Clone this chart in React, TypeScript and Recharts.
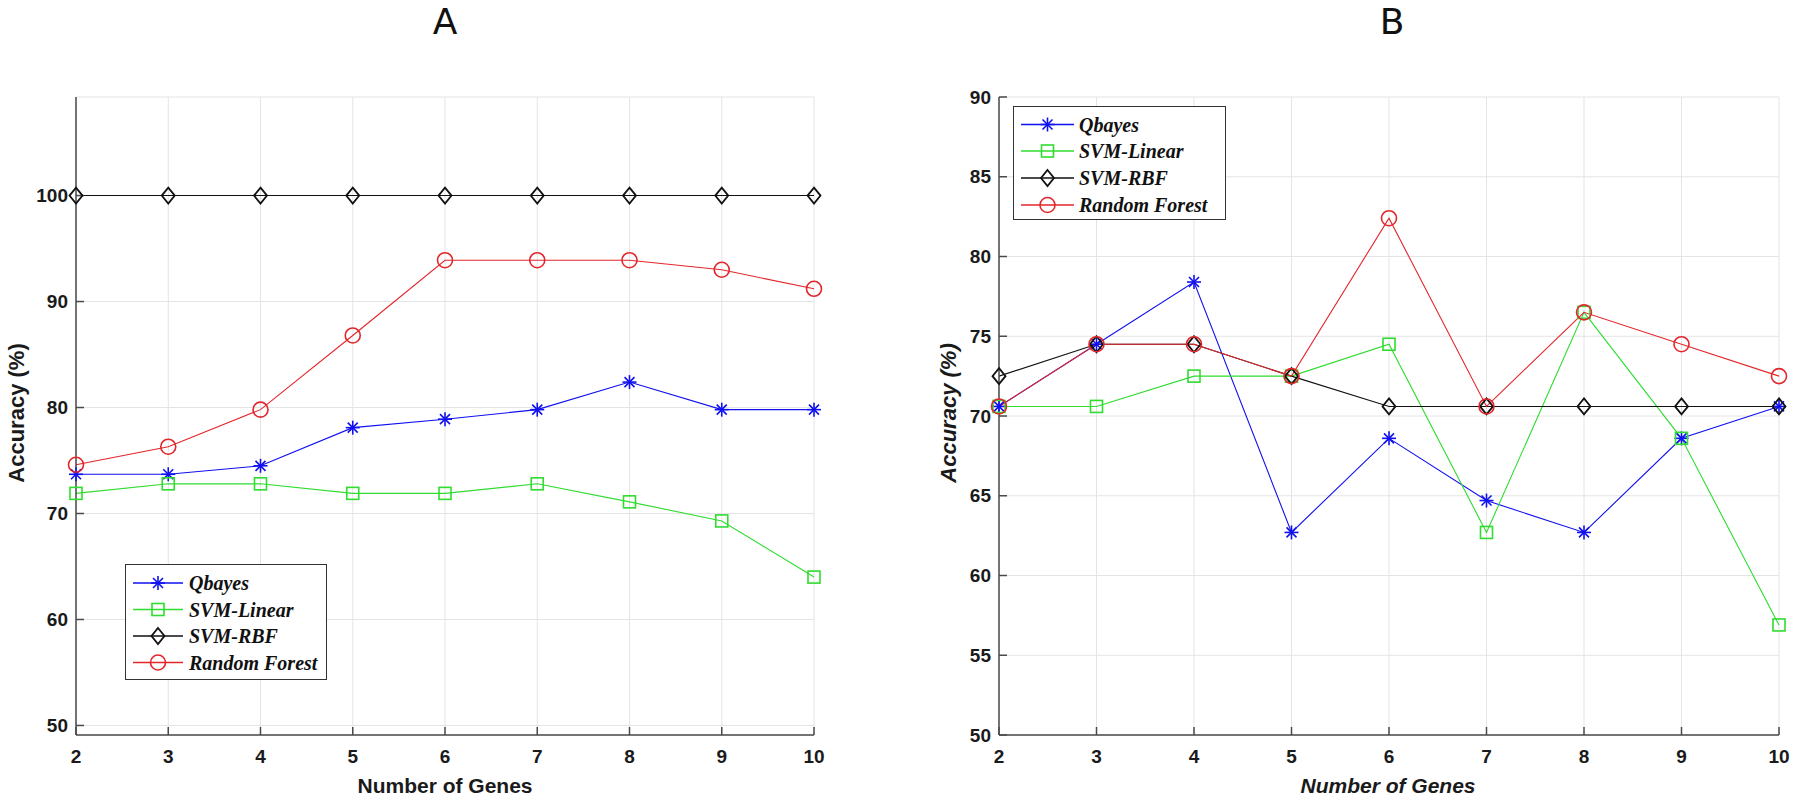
import { LineChart, Line, XAxis, YAxis, CartesianGrid } from 'recharts';

// Number of genes on the x axis
const genes = [2, 3, 4, 5, 6, 7, 8, 9, 10];

// Panel A accuracy (%)
const aQbayes = [73.7, 73.7, 74.5, 78.1, 78.9, 79.8, 82.4, 79.8, 79.8];
const aSvmLinear = [71.9, 72.8, 72.8, 71.9, 71.9, 72.8, 71.1, 69.3, 64.0];
const aSvmRbf = [100, 100, 100, 100, 100, 100, 100, 100, 100];
const aRandomForest = [74.6, 76.3, 79.8, 86.8, 93.9, 93.9, 93.9, 93.0, 91.2];

// Panel B accuracy (%)
const bQbayes = [70.6, 74.5, 78.4, 62.7, 68.6, 64.7, 62.7, 68.6, 70.6];
const bSvmLinear = [70.6, 70.6, 72.5, 72.5, 74.5, 62.7, 76.5, 68.6, 56.9];
const bSvmRbf = [72.5, 74.5, 74.5, 72.5, 70.6, 70.6, 70.6, 70.6, 70.6];
const bRandomForest = [70.6, 74.5, 74.5, 72.5, 82.4, 70.6, 76.5, 74.5, 72.5];

const aTicks = [50, 60, 70, 80, 90, 100];
const bTicks = [50, 55, 60, 65, 70, 75, 80, 85, 90];

const seriesNames = ['Qbayes', 'SVM-Linear', 'SVM-RBF', 'Random Forest'];

const BLUE = '#1010f0';
const GREEN = '#2fdc2f';
const BLACK = '#111111';
const RED = '#e3262b';
const AXIS = '#4a4a4a';
const GRID = '#e4e4e4';

const build = (q: number[], l: number[], r: number[], f: number[]) =>
  genes.map((g, i) => ({ genes: g, qbayes: q[i], linear: l[i], rbf: r[i], forest: f[i] }));

const dataA = build(aQbayes, aSvmLinear, aSvmRbf, aRandomForest);
const dataB = build(bQbayes, bSvmLinear, bSvmRbf, bRandomForest);

type MarkProps = { cx?: number; cy?: number };

const Star = ({ cx = 0, cy = 0 }: MarkProps) => {
  const s = 7;
  const d = 5;
  return (
    <g stroke={BLUE} strokeWidth={1.6}>
      <line x1={cx - s} y1={cy} x2={cx + s} y2={cy} />
      <line x1={cx} y1={cy - s} x2={cx} y2={cy + s} />
      <line x1={cx - d} y1={cy - d} x2={cx + d} y2={cy + d} />
      <line x1={cx - d} y1={cy + d} x2={cx + d} y2={cy - d} />
    </g>
  );
};

const Square = ({ cx = 0, cy = 0 }: MarkProps) => (
  <rect x={cx - 6} y={cy - 6} width={12} height={12} fill="none" stroke={GREEN} strokeWidth={1.6} />
);

const Diamond = ({ cx = 0, cy = 0 }: MarkProps) => (
  <polygon
    points={`${cx},${cy - 8} ${cx + 6.5},${cy} ${cx},${cy + 8} ${cx - 6.5},${cy}`}
    fill="none"
    stroke={BLACK}
    strokeWidth={1.8}
  />
);

const Ring = ({ cx = 0, cy = 0 }: MarkProps) => (
  <circle cx={cx} cy={cy} r={7.5} fill="none" stroke={RED} strokeWidth={1.6} />
);

const markers = [Star, Square, Diamond, Ring];
const colors = [BLUE, GREEN, BLACK, RED];
const keys = ['qbayes', 'linear', 'rbf', 'forest'];

const tickStyle = { fontSize: 19, fontWeight: 700, fill: '#1a1a1a', fontFamily: 'Liberation Sans, Arial, sans-serif' };

function Panel({
  data,
  domain,
  ticks,
  left,
  marginLeft,
  marginRight,
}: {
  data: ReturnType<typeof build>;
  domain: [number, number];
  ticks: number[];
  left: number;
  marginLeft: number;
  marginRight: number;
}) {
  return (
    <div style={{ position: 'absolute', left, top: 0 }}>
      <LineChart
        width={900}
        height={798}
        data={data}
        margin={{ top: 97, right: marginRight, bottom: 23, left: marginLeft }}
      >
        <CartesianGrid stroke={GRID} strokeWidth={1} />
        <XAxis
          dataKey="genes"
          type="number"
          domain={[2, 10]}
          ticks={genes}
          height={40}
          tick={tickStyle}
          tickSize={-8}
          tickMargin={23}
          stroke={AXIS}
          strokeWidth={1.5}
        />
        <XAxis
          xAxisId="top"
          orientation="top"
          dataKey="genes"
          type="number"
          domain={[2, 10]}
          ticks={genes}
          height={0}
          tick={false}
          tickSize={-8}
          stroke={AXIS}
          strokeWidth={1.5}
        />
        <YAxis
          type="number"
          domain={domain}
          ticks={ticks}
          width={60}
          tick={tickStyle}
          tickSize={-8}
          tickMargin={16}
          stroke={AXIS}
          strokeWidth={1.5}
          allowDataOverflow
        />
        <YAxis
          yAxisId="right"
          orientation="right"
          type="number"
          domain={domain}
          ticks={ticks}
          width={0}
          tick={false}
          tickSize={-8}
          stroke={AXIS}
          strokeWidth={1.5}
          allowDataOverflow
        />
        {keys.map((k, i) => {
          const M = markers[i];
          return (
            <Line
              key={k}
              dataKey={k}
              type="linear"
              stroke={colors[i]}
              strokeWidth={1.1}
              dot={(p: any) => <M key={`${k}-${p.index}`} cx={p.cx} cy={p.cy} />}
              activeDot={false}
              isAnimationActive={false}
            />
          );
        })}
      </LineChart>
    </div>
  );
}

function LegendBox({ left, top, width, height, rows, lineEnd, textX }: {
  left: number; top: number; width: number; height: number; rows: number[]; lineEnd: number; textX: number;
}) {
  return (
    <svg
      style={{ position: 'absolute', left, top, background: '#fff', border: '1.5px solid #333', boxSizing: 'border-box' }}
      width={width}
      height={height}
    >
      {seriesNames.map((name, i) => {
        const M = markers[i];
        const y = rows[i];
        const mid = (7 + lineEnd) / 2;
        return (
          <g key={name}>
            <line x1={7} y1={y} x2={lineEnd} y2={y} stroke={colors[i]} strokeWidth={1.4} />
            <M cx={mid} cy={y} />
            <text
              x={textX}
              y={y + 7}
              fontFamily="Liberation Serif, Times New Roman, serif"
              fontWeight={700}
              fontStyle="italic"
              fontSize={20}
              fill="#111"
            >
              {name}
            </text>
          </g>
        );
      })}
    </svg>
  );
}

const labelFont = 'Liberation Sans, Arial, sans-serif';

export default function App() {
  return (
    <div style={{ position: 'absolute', left: 0, top: 0, width: 1800, height: 798, background: '#fff', overflow: 'hidden' }}>
      <Panel data={dataA} domain={[49.1, 109.3]} ticks={aTicks} left={0} marginLeft={16} marginRight={86} />
      <Panel data={dataB} domain={[50, 90]} ticks={bTicks} left={900} marginLeft={39} marginRight={21} />

      <LegendBox left={125} top={564} width={202} height={116} rows={[18, 44.5, 71, 97.5]} lineEnd={57} textX={63} />
      <LegendBox left={1013} top={106} width={213} height={114} rows={[17.5, 44, 71, 98]} lineEnd={60} textX={65} />

      <svg style={{ position: 'absolute', left: 0, top: 0, pointerEvents: 'none' }} width={1800} height={798}>
        <text x={445} y={34} textAnchor="middle" fontFamily="DejaVu Sans, sans-serif" fontSize={36} fill="#111">A</text>
        <text x={1392} y={34} textAnchor="middle" fontFamily="DejaVu Sans, sans-serif" fontSize={36} fill="#111">B</text>

        <text
          x={0}
          y={0}
          transform="translate(24 413) rotate(-90)"
          textAnchor="middle"
          fontFamily={labelFont}
          fontWeight={700}
          fontSize={22}
          fill="#1a1a1a"
        >
          Accuracy (%)
        </text>
        <text x={445} y={793} textAnchor="middle" fontFamily={labelFont} fontWeight={700} fontSize={21} fill="#1a1a1a">
          Number of Genes
        </text>

        <text
          x={0}
          y={0}
          transform="translate(956 413) rotate(-90)"
          textAnchor="middle"
          fontFamily={labelFont}
          fontWeight={700}
          fontStyle="italic"
          fontSize={22}
          fill="#1a1a1a"
        >
          Accuracy (%)
        </text>
        <text
          x={1388}
          y={793}
          textAnchor="middle"
          fontFamily={labelFont}
          fontWeight={700}
          fontStyle="italic"
          fontSize={21}
          fill="#1a1a1a"
        >
          Number of Genes
        </text>
      </svg>
    </div>
  );
}
